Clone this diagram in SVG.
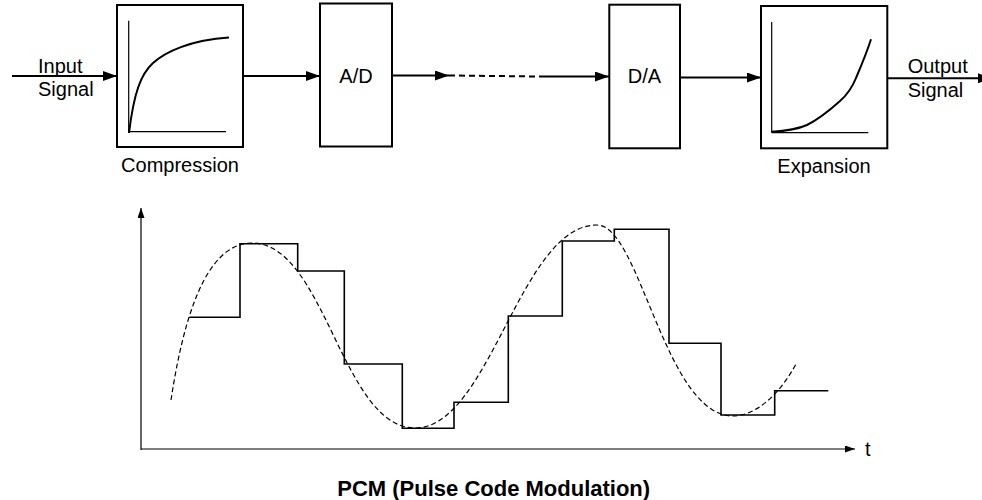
<svg xmlns="http://www.w3.org/2000/svg" width="982" height="500" viewBox="0 0 982 500">
<style>
  .box { fill: #fff; stroke: #000; stroke-width: 2; }
  .lbl { font-family: "Liberation Sans", Arial, sans-serif; font-size: 20px; fill: #000; }
  .title { font-family: "Liberation Sans", Arial, sans-serif; font-size: 22px; font-weight: bold; fill: #000; }
  .conn { stroke: #000; stroke-width: 2; fill: none; }
  .dash { stroke: #000; stroke-width: 2; fill: none; stroke-dasharray: 6 4; }
  .curve { stroke: #000; stroke-width: 2; fill: none; }
  .ax { stroke: #000; stroke-width: 1.2; fill: none; }
  .stair { stroke: #000; stroke-width: 1.6; fill: none; }
  .wave { stroke: #000; stroke-width: 1.2; fill: none; stroke-dasharray: 5 3; }
</style>
<defs>
  <marker id="arr" markerUnits="userSpaceOnUse" markerWidth="14" markerHeight="10" refX="14" refY="5" orient="auto">
    <path d="M0,0 L14,5 L0,10 z" fill="#000"/>
  </marker>
  <marker id="sarr" markerUnits="userSpaceOnUse" markerWidth="10" markerHeight="7" refX="10" refY="3.5" orient="auto">
    <path d="M0,0 L10,3.5 L0,7 z" fill="#000"/>
  </marker>
</defs>

<g id="connectors">
  <line class="conn" x1="12" y1="76" x2="117" y2="76" marker-end="url(#arr)"/>
  <line class="conn" x1="243" y1="76" x2="320" y2="76" marker-end="url(#arr)"/>
  <line class="conn" x1="392" y1="75.5" x2="449" y2="75.5" marker-end="url(#arr)"/>
  <line class="dash" x1="449" y1="75.5" x2="540" y2="76.5"/>
  <line class="conn" x1="540" y1="76.5" x2="609" y2="76.5" marker-end="url(#arr)"/>
  <line class="conn" x1="680" y1="77.5" x2="761" y2="77.5" marker-end="url(#arr)"/>
  <line class="conn" x1="887" y1="78.3" x2="992" y2="78.3" marker-end="url(#arr)"/>
</g>

<g id="input-label">
  <text class="lbl" x="38" y="72.5">Input</text>
  <text class="lbl" x="38" y="95.5">Signal</text>
</g>

<g id="compression">
  <rect class="box" x="117" y="5" width="126" height="142"/>
  <line class="ax" x1="128.7" y1="20.7" x2="128.7" y2="133" stroke="#555"/>
  <line class="ax" x1="128.7" y1="131.7" x2="226" y2="131.7"/>
  <path class="curve" d="M129,133 C134,92 141,74 153,63 S190,40 229,37.5"/>
  <text class="lbl" x="180" y="172.3" text-anchor="middle">Compression</text>
</g>

<g id="ad">
  <rect class="box" x="320" y="3.5" width="72" height="143"/>
  <text class="lbl" x="356" y="82.7" text-anchor="middle">A/D</text>
</g>

<g id="da">
  <rect class="box" x="609.3" y="4.7" width="70.7" height="143.6"/>
  <text class="lbl" x="644.5" y="83" text-anchor="middle">D/A</text>
</g>

<g id="expansion">
  <rect class="box" x="761" y="6" width="126.3" height="142.3"/>
  <line class="ax" x1="771.7" y1="22" x2="771.7" y2="132.7"/>
  <line class="ax" x1="771.7" y1="132.7" x2="868.3" y2="132.7"/>
  <path class="curve" d="M771.7,131.7 C785,131 797,129.5 807,125 C817,120 830,110 840,101 C848,94 852,88 856,78 C862,64 867,52 871,39.3"/>
  <text class="lbl" x="824" y="173.3" text-anchor="middle">Expansion</text>
</g>

<g id="output-label">
  <text class="lbl" x="907.7" y="73">Output</text>
  <text class="lbl" x="907.7" y="96.5">Signal</text>
</g>

<g id="pcm-chart">
  <line class="ax" stroke-width="1.5" x1="141" y1="450" x2="141" y2="208" marker-end="url(#sarr)"/>
  <line class="ax" stroke-width="1.5" x1="141" y1="449" x2="855" y2="449" marker-end="url(#sarr)"/>
  <text class="lbl" x="865" y="456">t</text>
  <path class="stair" d="M189.3,317.3 H240 V243.7 H297.7 V271 H344.3 V364 H402.3 V428.3 H454 V402.3 H508.3 V316 H562.3 V241 H614.3 V229.3 H669 V343.3 H721 V415 H774.7 V390.7 H828.3"/>
  <path class="wave" d="M171,400 C182,328 203,243 252,243 C325,243 342,428 415,428 C490,428 520,225 597,225 C640,225 665,416 733,416 C755,416 780,395 797,362"/>
</g>

<g id="title">
  <text class="title" x="493.7" y="495.7" text-anchor="middle">PCM (Pulse Code Modulation)</text>
</g>
</svg>
